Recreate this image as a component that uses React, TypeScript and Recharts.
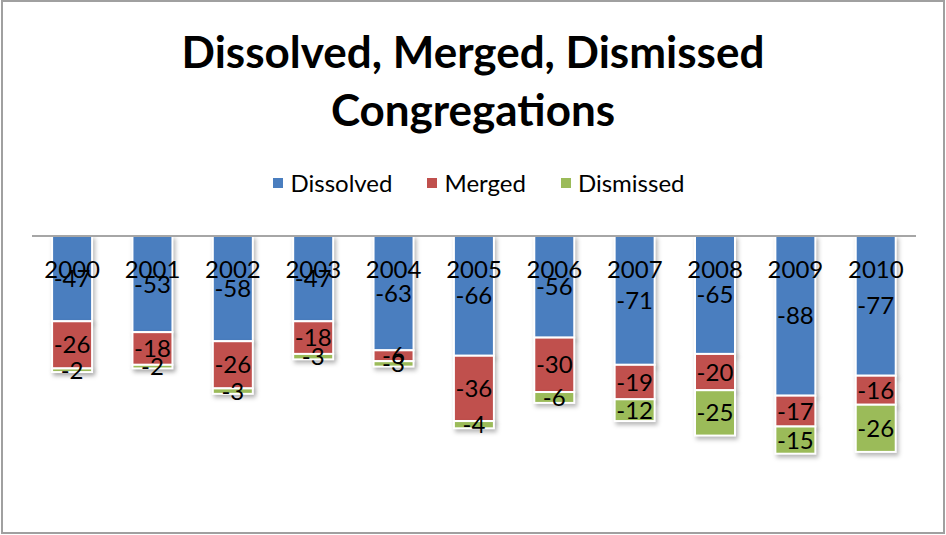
import React from 'react';
import { BarChart, Bar, XAxis, YAxis, LabelList } from 'recharts';

const years = ['2000', '2001', '2002', '2003', '2004', '2005', '2006', '2007', '2008', '2009', '2010'];
const dissolved = [-47, -53, -58, -47, -63, -66, -56, -71, -65, -88, -77];
const merged = [-26, -18, -26, -18, -6, -36, -30, -19, -20, -17, -16];
const dismissed = [-2, -2, -3, -3, -3, -4, -6, -12, -25, -15, -26];

const seriesNames = ['Dissolved', 'Merged', 'Dismissed'];
const seriesColors = ['#4A7EBF', '#C0504D', '#9BBB59'];

const data = years.map((y, i) => ({
  year: y,
  Dissolved: dissolved[i],
  Merged: merged[i],
  Dismissed: dismissed[i],
}));

const FONT = 'Lato, "Noto Sans", sans-serif';

const YearTick = (props: any) => {
  const { x, y, payload } = props;
  return (
    <text x={x} y={y + 50} textAnchor="middle" fontFamily={FONT} fontSize={24} fill="#000">
      {payload.value}
    </text>
  );
};

const ShadowRect = (props: any) => {
  const { x, y, width, height, fill } = props;
  if (height == null || width == null) return null;
  const h = Math.abs(height);
  const top = height < 0 ? y + height : y;
  return (
    <rect
      x={x}
      y={top}
      width={width}
      height={h}
      fill={fill}
      stroke="#ffffff"
      strokeWidth={2}
      style={{ filter: 'drop-shadow(2px 3px 2px rgba(0,0,0,0.28))' }}
    />
  );
};

export default function App() {
  return (
    <div style={{ position: 'absolute', left: 0, top: 0, width: 946, height: 535, background: '#fff' }}>
      <div
        style={{
          position: 'absolute',
          left: 1,
          top: 0,
          width: 944,
          height: 534,
          boxSizing: 'border-box',
          border: '2px solid #a0a0a0',
        }}
      />
      <div
        style={{
          position: 'absolute',
          left: 0,
          top: 22,
          width: 946,
          textAlign: 'center',
          fontFamily: FONT,
          fontWeight: 700,
          fontSize: 44,
          lineHeight: '58px',
          color: '#000',
        }}
      >
        Dissolved, Merged, Dismissed
        <br />
        Congregations
      </div>
      <div
        style={{
          position: 'absolute',
          top: 168,
          left: 6,
          width: 946,
          display: 'flex',
          justifyContent: 'center',
          alignItems: 'center',
          fontFamily: FONT,
          fontSize: 24,
          color: '#000',
        }}
      >
        {seriesNames.map((n, i) => (
          <div key={n} style={{ display: 'flex', alignItems: 'center', marginRight: i < 2 ? 35 : 0 }}>
            <div style={{ width: 10, height: 10, background: seriesColors[i], marginRight: 7 }} />
            <span>{n}</span>
          </div>
        ))}
      </div>
      <div style={{ position: 'absolute', left: 0, top: 0 }}>
        <BarChart
          width={946}
          height={535}
          data={data}
          margin={{ top: 206, right: 30, bottom: 45, left: 32 }}
          barCategoryGap="25%"
        >
          <YAxis hide type="number" domain={[-140, 0]} allowDataOverflow />
          {seriesNames.map((n, i) => (
            <Bar
              key={n}
              dataKey={n}
              stackId="a"
              fill={seriesColors[i]}
              isAnimationActive={false}
              shape={<ShadowRect />}
            >
              <LabelList
                dataKey={n}
                position="center"
                fill="#000"
                fontSize={24}
                fontFamily={FONT}
              />
            </Bar>
          ))}
          <XAxis
            dataKey="year"
            orientation="top"
            height={30}
            tickLine={false}
            axisLine={{ stroke: '#a6a6a6', strokeWidth: 2 }}
            tick={<YearTick />}
            interval={0}
          />
        </BarChart>
      </div>
    </div>
  );
}
